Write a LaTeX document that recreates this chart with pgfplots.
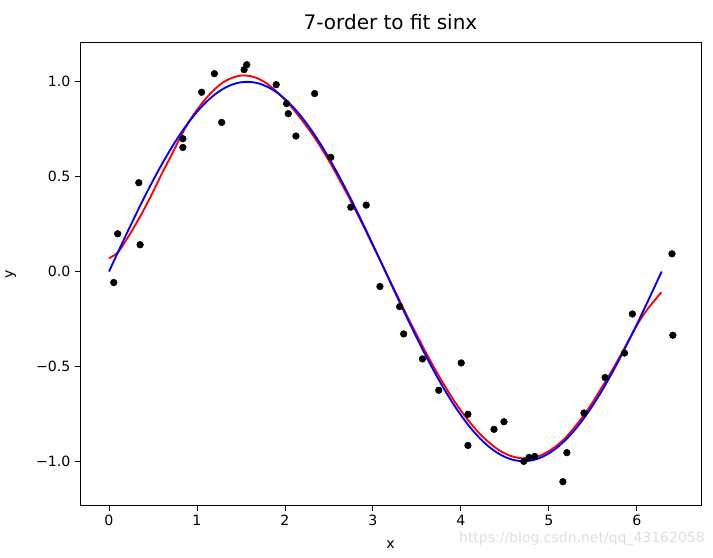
\documentclass[border=0pt]{standalone}
\usepackage{fontspec}
\setmainfont{DejaVu Sans}
\usepackage{pgfplots}
\usepackage{pgfplotstable}
\pgfplotsset{compat=1.18}

% noisy samples
\pgfplotstableread{
x y
0.054 -0.058
0.099 0.199
0.339 0.468
0.354 0.141
0.840 0.700
0.840 0.654
1.053 0.945
1.198 1.043
1.281 0.786
1.536 1.064
1.566 1.090
1.901 0.985
2.019 0.885
2.038 0.832
2.125 0.714
2.338 0.938
2.521 0.602
2.749 0.339
2.924 0.350
3.080 -0.079
3.304 -0.185
3.350 -0.329
3.563 -0.461
3.749 -0.626
4.004 -0.482
4.080 -0.753
4.080 -0.917
4.377 -0.832
4.490 -0.792
4.715 -1.001
4.775 -0.980
4.840 -0.975
5.160 -1.108
5.205 -0.955
5.400 -0.746
5.640 -0.559
5.860 -0.430
5.950 -0.224
6.400 0.093
6.410 -0.336
}\samples

% 7-order polynomial fit
\pgfplotstableread{
x y
0.00 0.070
0.10 0.100
0.20 0.169
0.30 0.246
0.40 0.329
0.50 0.419
0.60 0.515
0.70 0.604
0.80 0.697
0.90 0.783
1.00 0.852
1.10 0.911
1.20 0.960
1.30 0.998
1.40 1.021
1.50 1.033
1.60 1.031
1.70 1.016
1.80 0.989
1.90 0.951
2.00 0.906
2.10 0.853
2.20 0.794
2.30 0.731
2.40 0.661
2.50 0.584
2.60 0.501
2.70 0.415
2.80 0.325
2.90 0.232
3.00 0.137
3.10 0.042
3.20 -0.054
3.30 -0.150
3.40 -0.244
3.50 -0.336
3.60 -0.425
3.70 -0.510
3.80 -0.590
3.90 -0.665
4.00 -0.733
4.10 -0.794
4.20 -0.848
4.30 -0.893
4.40 -0.931
4.50 -0.959
4.60 -0.977
4.70 -0.985
4.80 -0.983
4.90 -0.971
5.00 -0.947
5.10 -0.914
5.20 -0.871
5.30 -0.817
5.40 -0.756
5.50 -0.688
5.60 -0.613
5.70 -0.536
5.80 -0.455
5.90 -0.369
6.00 -0.284
6.10 -0.212
6.20 -0.153
6.28 -0.110
}\fitcurve

% sin x
\pgfplotstableread{
x y
0.00 0.0000
0.10 0.0998
0.20 0.1987
0.30 0.2955
0.40 0.3894
0.50 0.4794
0.60 0.5646
0.70 0.6442
0.80 0.7174
0.90 0.7833
1.00 0.8415
1.10 0.8912
1.20 0.9320
1.30 0.9636
1.40 0.9854
1.50 0.9975
1.60 0.9996
1.70 0.9917
1.80 0.9738
1.90 0.9463
2.00 0.9093
2.10 0.8632
2.20 0.8085
2.30 0.7457
2.40 0.6755
2.50 0.5985
2.60 0.5155
2.70 0.4274
2.80 0.3350
2.90 0.2392
3.00 0.1411
3.10 0.0416
3.20 -0.0584
3.30 -0.1577
3.40 -0.2555
3.50 -0.3508
3.60 -0.4425
3.70 -0.5298
3.80 -0.6119
3.90 -0.6878
4.00 -0.7568
4.10 -0.8183
4.20 -0.8716
4.30 -0.9162
4.40 -0.9516
4.50 -0.9775
4.60 -0.9937
4.70 -0.9999
4.80 -0.9962
4.90 -0.9825
5.00 -0.9589
5.10 -0.9258
5.20 -0.8835
5.30 -0.8323
5.40 -0.7728
5.50 -0.7055
5.60 -0.6313
5.70 -0.5507
5.80 -0.4646
5.90 -0.3739
6.00 -0.2794
6.10 -0.1822
6.20 -0.0831
6.283 0.0000
}\sincurve

\begin{document}
\begin{tikzpicture}
\begin{axis}[
    width=466pt, height=348pt, scale only axis,
    xmin=-0.33, xmax=6.73,
    ymin=-1.235, ymax=1.21,
    xtick={0,1,2,3,4,5,6},
    ytick={-1,-0.5,0,0.5,1},
    yticklabels={−1.0,−0.5,0.0,0.5,1.0},
    /pgf/number format/assume math mode=true,
    tick align=outside,
    xtick pos=bottom, ytick pos=left,
    major tick length=3.7pt,
    tick style={black, line width=0.6pt},
    axis line style={line width=0.6pt},
    ticklabel style={font=\fontsize{10.6}{12}\selectfont},
    xlabel={x}, ylabel={y},
    label style={font=\fontsize{10.6}{12}\selectfont},
    xlabel style={at={(axis description cs:0.5,0)}, anchor=center, yshift=-29pt},
    ylabel style={at={(axis description cs:0,0.5)}, anchor=center, yshift=52pt},
]
\addplot[only marks, mark=*, mark size=2.5pt, black] table {\samples};
\addplot[red, line width=1.4pt, smooth] table {\fitcurve};
\addplot[blue, line width=1.4pt, smooth] table {\sincurve};
\end{axis}
\node[font=\fontsize{15}{17}\selectfont] at ([yshift=15pt]current axis.north) {7-order to fit sinx};
\node[anchor=east, text=black!13, font=\fontsize{10.5}{12}\selectfont, inner sep=0pt]
    at ([xshift=3pt,yshift=-25pt]current axis.south east) {https://blog.csdn.net/qq\_43162058};
\pgfresetboundingbox
\path ([xshift=-60pt,yshift=-39pt]current axis.south west) rectangle ([xshift=9pt,yshift=31.5pt]current axis.north east);
\end{tikzpicture}
\end{document}
